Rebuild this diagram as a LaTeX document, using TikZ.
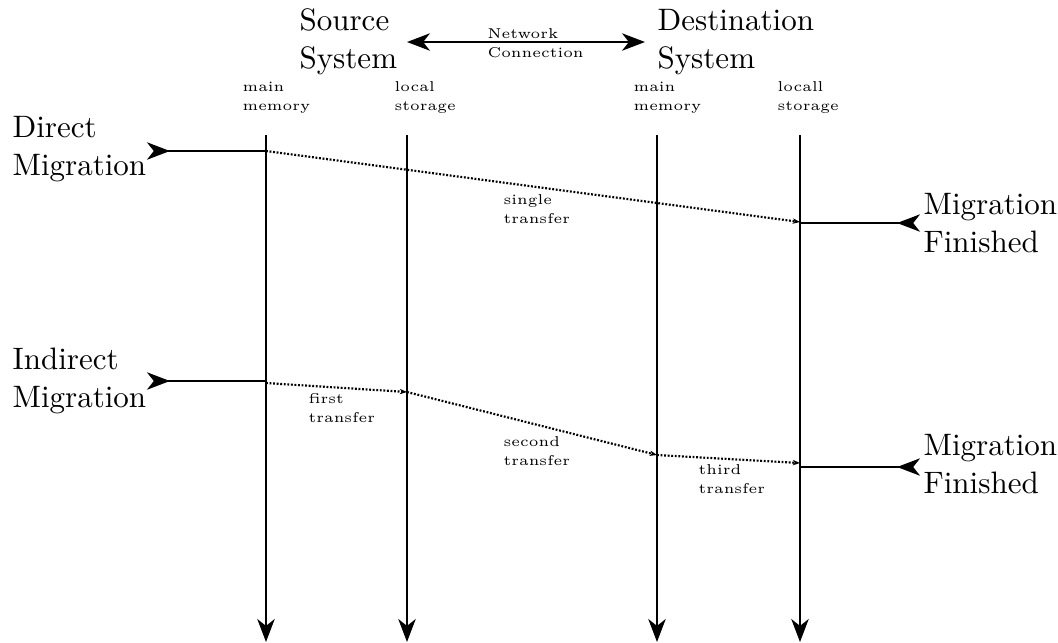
\documentclass[tikz,border=0pt]{standalone}
\usetikzlibrary{arrows.meta}
\begin{document}
\begin{tikzpicture}[x=0.3226pt,y=-0.3226pt,
  big/.style={font=\normalsize, align=left, inner sep=0pt, anchor=base west},
  small/.style={font=\fontsize{4.6}{5.9}\selectfont, align=left, inner sep=0pt, anchor=base west},
  bigtip/.tip={Stealth[length=7.4pt,width=5.6pt,inset=2.2pt]},
  smalltip/.tip={Stealth[length=2.3pt,width=1.7pt,inset=0.6pt]},
  lifeline/.style={line width=0.65pt, -bigtip},
  solidarrow/.style={line width=0.65pt},
  transfer/.style={line width=0.7pt, dash pattern=on 0.6pt off 0.55pt, -smalltip}]
\useasboundingbox (0,0) rectangle (1058,642);

% headers (anchor = baseline of last line)
\node[big] (src) at (299,68) {Source\\System};
\node[big] (dst) at (657,68) {Destination\\System};
\node[small] (net) at (487,57) {Network\\Connection};
\coordinate (netL) at (407,42);
\coordinate (netR) at (645,42);
\draw[line width=0.65pt, bigtip-bigtip] (netL) -- (netR);

\node[small] (lab1) at (242,110) {main\\memory};
\node[small] (lab2) at (394,110) {local\\storage};
\node[small] (lab3) at (633,110) {main\\memory};
\node[small] (lab4) at (777,110) {locall\\storage};

% lifelines
\coordinate (m1t) at (266,135); \coordinate (m1b) at (266,642);
\coordinate (s1t) at (407,135); \coordinate (s1b) at (407,642);
\coordinate (m2t) at (657,135); \coordinate (m2b) at (657,642);
\coordinate (s2t) at (800,135); \coordinate (s2b) at (800,642);
\draw[lifeline] (m1t) -- (m1b);
\draw[lifeline] (s1t) -- (s1b);
\draw[lifeline] (m2t) -- (m2b);
\draw[lifeline] (s2t) -- (s2b);

% direct migration
\node[big] (direct) at (12,175) {Direct\\Migration};
\coordinate (dA) at (266,151);
\coordinate (dB) at (800,222);
\coordinate (dS) at (147,151);
\draw[solidarrow, {Stealth[length=7.4pt,width=5.6pt,inset=2.2pt,reversed]}-] (dS) -- (dA);
\draw[transfer] (dA) -- (dB);
\node[small] (single) at (503,223) {single\\transfer};
\node[big] (fin1) at (923,252) {Migration\\Finished};
\coordinate (f1A) at (800,223);
\coordinate (f1B) at (920,223);
\draw[solidarrow, -{Stealth[length=7.4pt,width=5.6pt,inset=2.2pt,reversed]}] (f1A) -- (f1B);

% indirect migration
\node[big] (indirect) at (12,407) {Indirect\\Migration};
\coordinate (iS) at (147,381);
\coordinate (iA0) at (266,381);
\coordinate (iA) at (266,383);
\coordinate (iB) at (407,392);
\coordinate (iC) at (657,455);
\coordinate (iD) at (800,463);
\draw[solidarrow, {Stealth[length=7.4pt,width=5.6pt,inset=2.2pt,reversed]}-] (iS) -- (iA0);
\draw[transfer] (iA) -- (iB);
\draw[transfer] (iB) -- (iC);
\draw[transfer] (iC) -- (iD);
\node[small] (first) at (308,422) {first\\transfer};
\node[small] (second) at (503,465) {second\\transfer};
\node[small] (third) at (698,493) {third\\transfer};
\node[big] (fin2) at (923,493) {Migration\\Finished};
\coordinate (f2A) at (800,467);
\coordinate (f2B) at (920,467);
\draw[solidarrow, -{Stealth[length=7.4pt,width=5.6pt,inset=2.2pt,reversed]}] (f2A) -- (f2B);
\end{tikzpicture}
\end{document}
